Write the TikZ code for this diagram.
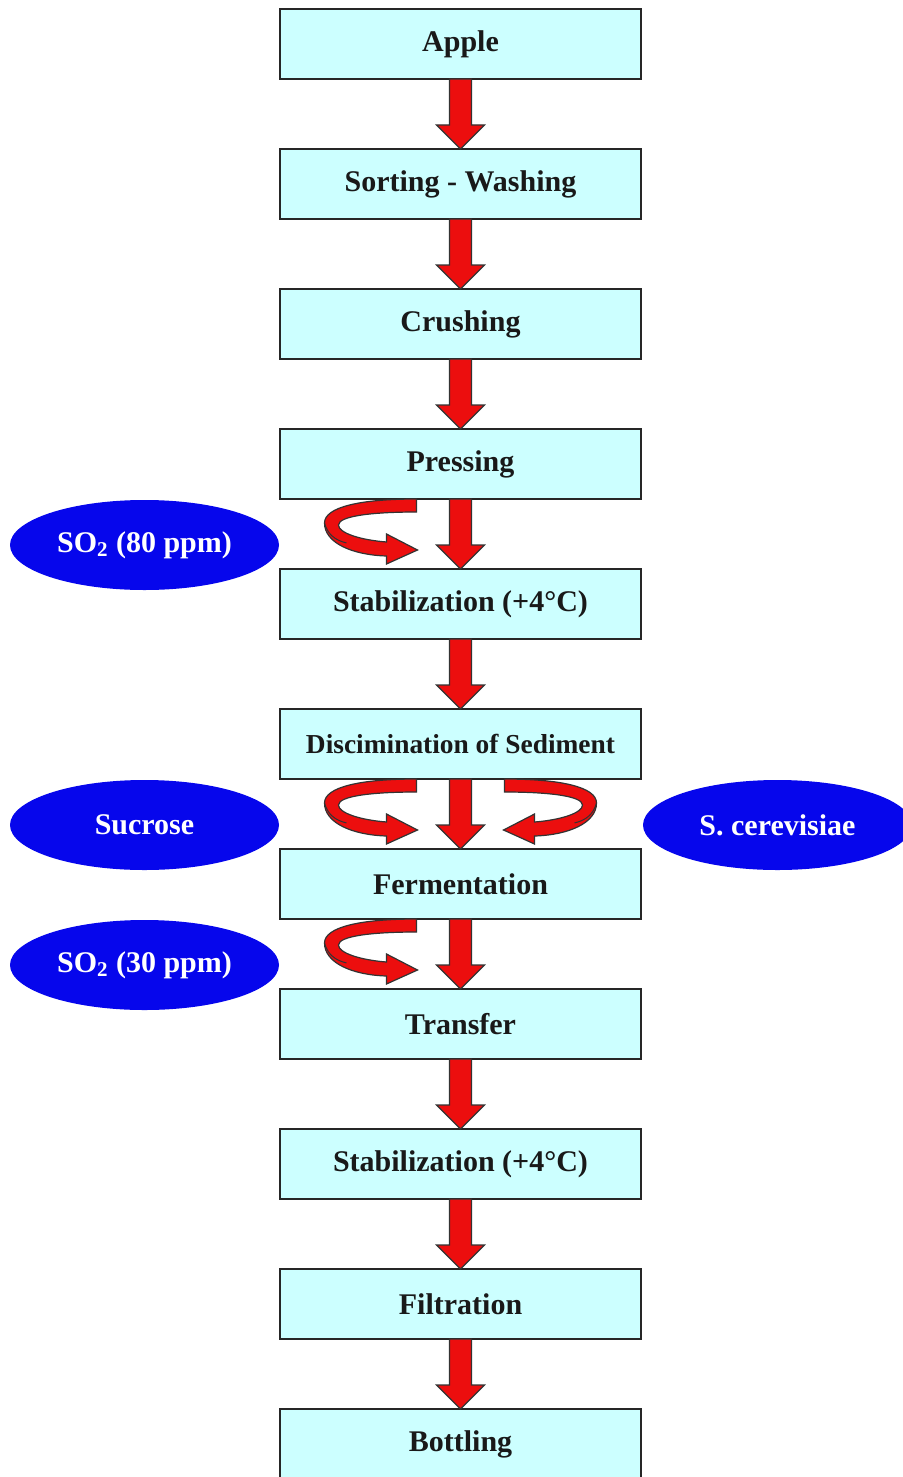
\documentclass[tikz,border=0pt]{standalone}
\usepackage{fontspec}
\setmainfont{Liberation Serif}
\usetikzlibrary{positioning,calc,shapes.geometric}
\definecolor{boxcyan}{RGB}{204,255,255}
\definecolor{arrowred}{RGB}{236,14,14}
\definecolor{dropblue}{RGB}{6,6,236}
% block arrow from the bottom of one box to the top of the next
\newcommand\flowarrow[2]{%
  \draw[blockarrow] ($(#1.south)+(-11,0)$) -- ($(#1.south)+(11,0)$)
    -- ($(#2.north)+(11,-24)$) -- ($(#2.north)+(24,-24)$) -- (#2.north)
    -- ($(#2.north)+(-24,-24)$) -- ($(#2.north)+(-11,-24)$) -- cycle;}
\begin{document}
\begin{tikzpicture}[x=0.5pt,y=-0.5pt,node distance=35pt,
  stepbox/.style={draw=black!85, line width=0.9pt, fill=boxcyan,
    minimum width=180.5pt, minimum height=35pt, inner sep=0pt, outer sep=0pt,
    text=black!90, font=\fontsize{15}{18}\selectfont\bfseries},
  additive/.style={ellipse, fill=dropblue, minimum width=134.5pt,
    minimum height=45pt, inner sep=0pt, text=white,
    font=\fontsize{15}{18}\selectfont\bfseries},
  blockarrow/.style={fill=arrowred, draw=black!80, line width=0.6pt},
  swirl/.pic={
    \draw[blockarrow] (-44,0) .. controls (-100,0) and (-136,8) .. (-136,24)
      .. controls (-136,44) and (-108,56) .. (-74,57) -- (-74,65) -- (-43,51)
      -- (-74,35) -- (-74,43) .. controls (-100,41) and (-122,34) .. (-122,26)
      .. controls (-122,17) and (-88,13) .. (-44,13) -- cycle;
    \draw[black!80, line width=0.5pt] (-136,24) .. controls (-133,35) and (-126,41) .. (-114,44);
  }
]
\useasboundingbox (0,0) rectangle (902,1477);
% process steps
\node[stepbox] (apple) at (460.5,44) {Apple};
\node[stepbox, below=of apple] (sorting) {Sorting - Washing};
\node[stepbox, below=of sorting] (crushing) {Crushing};
\node[stepbox, below=of crushing] (pressing) {Pressing};
\node[stepbox, below=of pressing] (stab1) {Stabilization (+4°C)};
\node[stepbox, below=of stab1, font=\fontsize{13.7}{16}\selectfont\bfseries] (sediment) {Discimination of Sediment};
\node[stepbox, below=of sediment] (ferment) {Fermentation};
\node[stepbox, below=of ferment] (transfer) {Transfer};
\node[stepbox, below=of transfer] (stab2) {Stabilization (+4°C)};
\node[stepbox, below=of stab2] (filtration) {Filtration};
\node[stepbox, below=of filtration] (bottling) {Bottling};
% additions
\node[additive] (so80) at (144.5,545) {SO\textsubscript{2} (80 ppm)};
\node[additive] (sucrose) at (144.5,825) {Sucrose};
\node[additive] (yeast) at (777.5,825) {S. cerevisiae};
\node[additive] (so30) at (144.5,965) {SO\textsubscript{2} (30 ppm)};
% arrows
\flowarrow{apple}{sorting}
\flowarrow{sorting}{crushing}
\flowarrow{crushing}{pressing}
\flowarrow{pressing}{stab1}
\flowarrow{stab1}{sediment}
\flowarrow{sediment}{ferment}
\flowarrow{ferment}{transfer}
\flowarrow{transfer}{stab2}
\flowarrow{stab2}{filtration}
\flowarrow{filtration}{bottling}
\pic at (pressing.south) {swirl};
\pic at (sediment.south) {swirl};
\pic[xscale=-1] at (sediment.south) {swirl};
\pic at (ferment.south) {swirl};
\end{tikzpicture}
\end{document}
